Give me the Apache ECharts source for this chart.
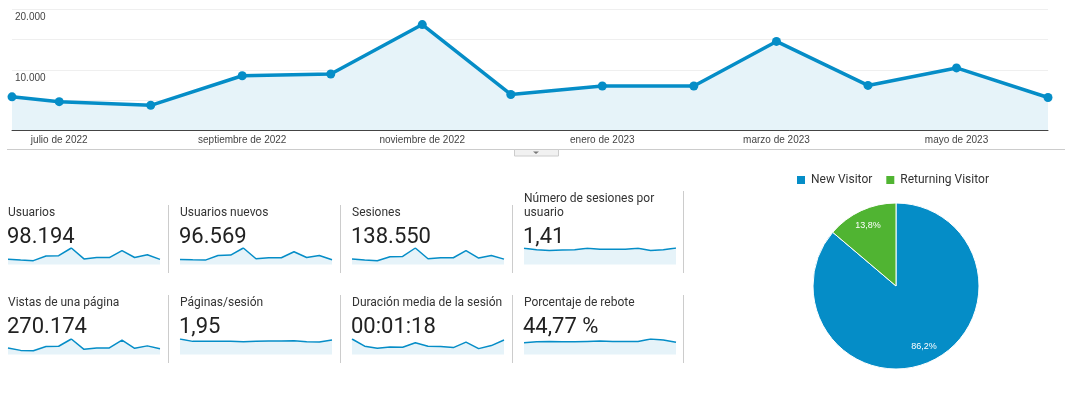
<!DOCTYPE html>
<html>
<head>
<meta charset="utf-8">
<script src="https://cdn.jsdelivr.net/npm/echarts@6/dist/echarts.min.js"></script>
<style>
  html, body { margin: 0; padding: 0; background: #fff; }
  #chart { width: 1074px; height: 401px; }
</style>
</head>
<body>
<div id="chart"></div>
<script>
// ---------- DATA ----------
const months = ['2022-06-15','2022-07-01','2022-08-01','2022-09-01','2022-10-01','2022-11-01','2022-12-01',
                '2023-01-01','2023-02-01','2023-03-01','2023-04-01','2023-05-01','2023-06-01'];
const usuarios = [5500, 4700, 4100, 9000, 9300, 17500, 5900, 7300, 7300, 14700, 7400, 10300, 5400];

const xLabelDates = ['2022-07-01','2022-09-01','2022-11-01','2023-01-01','2023-03-01','2023-05-01'];
const xLabelTexts = ['julio de 2022','septiembre de 2022','noviembre de 2022','enero de 2023','marzo de 2023','mayo de 2023'];
const yLabelValues = [10000, 20000];
const yLabelTexts = ['10.000', '20.000'];

const usuariosNuevos = [5300, 4900, 4600, 9500, 9900, 17300, 6000, 7100, 7100, 13400, 7400, 9500, 4900];
const sesiones = [7500, 6100, 5100, 10800, 11200, 22900, 8000, 9400, 9400, 19200, 8900, 12600, 7500];
const sesionesPorUsuario = [1.49, 1.36, 1.30, 1.33, 1.36, 1.49, 1.40, 1.40, 1.40, 1.49, 1.30, 1.36, 1.52];
const vistasPagina = [17800, 11200, 10300, 21500, 22400, 42100, 14000, 17800, 17800, 39300, 16800, 23400, 15900];
const paginasSesion = [2.35, 1.99, 1.99, 1.99, 1.99, 1.94, 1.99, 2.04, 2.04, 2.09, 1.94, 1.89, 2.20];
const duracionMedia = [108, 58, 43, 53, 50, 82, 58, 55, 48, 86, 41, 62, 101];
const porcentajeRebote = [41.3, 45.0, 46.3, 45.0, 45.0, 46.3, 47.5, 46.3, 46.3, 46.3, 55.0, 51.3, 43.8];

const metricTitles = ['Usuarios', 'Usuarios nuevos', 'Sesiones', 'Número de sesiones por\nusuario',
                      'Vistas de una página', 'Páginas/sesión', 'Duración media de la sesión', 'Porcentaje de rebote'];
const metricValues = ['98.194', '96.569', '138.550', '1,41', '270.174', '1,95', '00:01:18', '44,77 %'];

const visitorTypes = ['New Visitor', 'Returning Visitor'];
const visitorShares = [86.2, 13.8];

// ---------- BUILD ----------
const BLUE = '#058dc7';
const GREEN = '#50b432';
const FILL = '#e6f3f9';

function ts(s) { const p = s.split('-').map(Number); return Date.UTC(p[0], p[1]-1, p[2]); }
const xLabelTs = xLabelDates.map(ts);

const sparkData = [usuarios, usuariosNuevos, sesiones, sesionesPorUsuario,
                   vistasPagina, paginasSesion, duracionMedia, porcentajeRebote];

const colX = [8, 180, 352, 524];
const colW = 152;
const rowTitleY = [213, 303];
const rowValueY = [237, 327];
const rowSparkTop = [248, 339];
const rowSparkH = [16.5, 15.5];

const grids = [{ left: 12, right: 26, top: 9.5, bottom: 271 }];
const xAxes = [{
  type: 'value', gridIndex: 0,
  min: ts(months[0]), max: ts(months[months.length-1]),
  axisLine: { lineStyle: { color: '#444', width: 1 } },
  axisTick: { show: false },
  splitLine: { show: false },
  axisLabel: {
    customValues: xLabelTs,
    formatter: function (v) {
      let best = -1, bd = Infinity;
      xLabelTs.forEach((t, i) => { const d = Math.abs(t - v); if (d < bd) { bd = d; best = i; } });
      return bd < 86400000 ? xLabelTexts[best] : '';
    },
    fontSize: 10, color: '#444', fontFamily: 'Liberation Sans, Arial, sans-serif', margin: 5,
    hideOverlap: false, showMinLabel: true, showMaxLabel: true
  }
}];
const yAxes = [{
  type: 'value', gridIndex: 0, min: 0, max: 20000, interval: 5000,
  axisLine: { show: false }, axisTick: { show: false },
  splitLine: { lineStyle: { color: '#efefef', width: 1 } },
  axisLabel: {
    inside: true, margin: 3, verticalAlign: 'top', padding: [3, 0, 0, 0],
    fontSize: 10, color: '#444', fontFamily: 'Liberation Sans, Arial, sans-serif',
    formatter: function (v) { const i = yLabelValues.indexOf(v); return i >= 0 ? yLabelTexts[i] : ''; }
  }
}];
const series = [{
  type: 'line', xAxisIndex: 0, yAxisIndex: 0,
  data: months.map((m, i) => [ts(m), usuarios[i]]),
  lineStyle: { color: BLUE, width: 3.5 },
  itemStyle: { color: BLUE },
  symbol: 'circle', symbolSize: 9, showSymbol: true,
  areaStyle: { color: FILL, opacity: 1 },
  animation: false
}];

const graphic = [];
sparkData.forEach((arr, k) => {
  const r = Math.floor(k / 4), c = k % 4;
  const gi = grids.length;
  grids.push({ left: colX[c], top: rowSparkTop[r], width: colW, height: rowSparkH[r] });
  xAxes.push({ type: 'category', gridIndex: gi, boundaryGap: false, show: false, data: months });
  yAxes.push({ type: 'value', gridIndex: gi, min: 0, max: 'dataMax', show: false });
  series.push({
    type: 'line', xAxisIndex: gi, yAxisIndex: gi, data: arr,
    showSymbol: false, lineStyle: { color: BLUE, width: 1.5 },
    areaStyle: { color: FILL, opacity: 1 }, animation: false
  });
  const lines = metricTitles[k].split('\n').length;
  graphic.push({
    type: 'text', silent: true,
    style: { text: metricTitles[k], x: colX[c], y: rowTitleY[r] - (lines - 1) * 7,
             font: '12px Roboto, sans-serif', fill: '#333', lineHeight: 14,
             verticalAlign: 'middle' }
  });
  graphic.push({
    type: 'text', silent: true,
    style: { text: metricValues[k], x: colX[c] - 1, y: rowValueY[r],
             font: '22px Roboto, sans-serif', fill: '#222',
             verticalAlign: 'middle' }
  });
});

// separators
[168, 340, 512, 683].forEach((x, i) => {
  graphic.push({ type: 'line', silent: true, shape: { x1: x + 0.5, y1: i === 3 ? 191 : 205, x2: x + 0.5, y2: 273 },
                 style: { stroke: '#ccc', lineWidth: 1 } });
  graphic.push({ type: 'line', silent: true, shape: { x1: x + 0.5, y1: 295, x2: x + 0.5, y2: 363 },
                 style: { stroke: '#ccc', lineWidth: 1 } });
});
// bottom rule and tab
graphic.push({ type: 'line', silent: true, shape: { x1: 7, y1: 149.5, x2: 1065, y2: 149.5 },
               style: { stroke: '#ccc', lineWidth: 1 } });
graphic.push({ type: 'rect', silent: true, shape: { x: 514.5, y: 149.5, width: 44, height: 6.5 },
               style: { fill: '#f1f1f1', stroke: '#ccc', lineWidth: 1 } });
graphic.push({ type: 'polygon', silent: true, shape: { points: [[533, 151.5], [539, 151.5], [536, 154]] },
               style: { fill: '#777' } });

series.push({
  type: 'pie', name: 'visitors', center: [896, 286], radius: [0, 83],
  startAngle: 90, clockwise: true, animation: false,
  itemStyle: { borderColor: '#fff', borderWidth: 1 },
  label: { show: false }, labelLine: { show: false },
  emphasis: { disabled: true },
  data: visitorTypes.map((n, i) => ({ name: n, value: visitorShares[i],
        itemStyle: { color: i === 0 ? BLUE : GREEN } }))
});
series.push({
  type: 'pie', name: 'labels', center: [896, 286], radius: [44, 83],
  startAngle: 90, clockwise: true, animation: false, silent: true,
  itemStyle: { color: 'rgba(0,0,0,0)', borderWidth: 0 },
  label: { show: true, position: 'inside', color: '#fff', fontSize: 9,
           fontFamily: 'Liberation Sans, Arial, sans-serif',
           formatter: p => String(p.value).replace('.', ',') + '%' },
  labelLine: { show: false },
  data: visitorTypes.map((n, i) => ({ name: n, value: visitorShares[i] }))
});

const chart = echarts.init(document.getElementById('chart'), null, { renderer: 'canvas' });
chart.setOption({
  animation: false,
  backgroundColor: '#fff',
  grid: grids, xAxis: xAxes, yAxis: yAxes, series: series, graphic: graphic,
  legend: {
    data: visitorTypes, left: 795, top: 174, icon: 'rect',
    itemWidth: 10, itemHeight: 10, itemGap: 12, padding: 0,
    textStyle: { fontSize: 12, color: '#333', fontFamily: 'Roboto, sans-serif' },
    selectedMode: false
  }
});
</script>
</body>
</html>
